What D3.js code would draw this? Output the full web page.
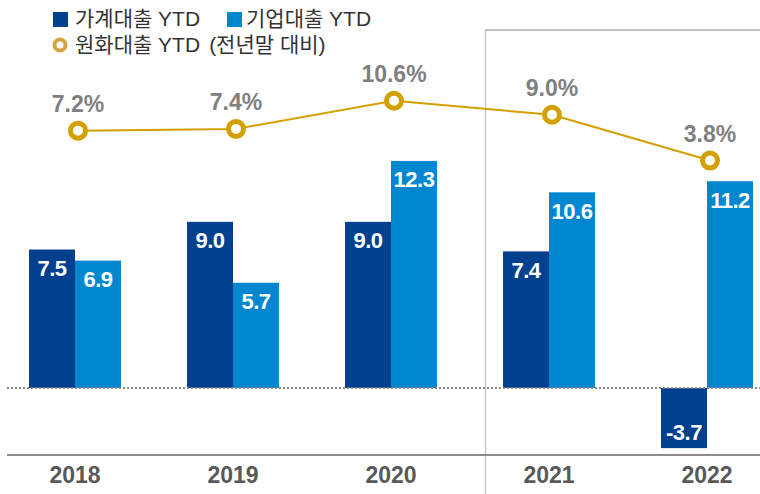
<!DOCTYPE html>
<html>
<head>
<meta charset="utf-8">
<script src="https://cdn.jsdelivr.net/npm/d3@7"></script>
<style>
  body { margin: 0; background: #fff; }
  svg { display: block; font-family: "Liberation Sans", Arial, "Noto Sans CJK KR", sans-serif; }
</style>
</head>
<body>
<div id="chart"></div>
<script>
// chart data
const years = ["2018", "2019", "2020", "2021", "2022"];
const household = [7.5, 9.0, 9.0, 7.4, -3.7];   // 가계대출 YTD
const corporate = [6.9, 5.7, 12.3, 10.6, 11.2]; // 기업대출 YTD
const krwLoans = [7.2, 7.4, 10.6, 9.0, 3.8];    // 원화대출 YTD (전년말 대비)
const seriesNames = ["가계대출 YTD", "기업대출 YTD", "원화대출 YTD", "(전년말 대비)"];

const width = 760, height = 494;
const colors = {dark: "#00408F", light: "#0087CF", gold: "#D3A000"};

let svg = d3.select("#chart")
    .append("svg")
    .attr("width", width)
    .attr("height", height);

// x scales - outer band per year, inner band per series
let x = d3.scaleBand()
    .domain(years)
    .range([-4, 786])
    .paddingInner(0.418)
    .paddingOuter(0.209);

let xInner = d3.scaleBand()
    .domain(["household", "corporate"])
    .range([0, x.bandwidth()]);

// bar scale (negative side drawn a bit tighter like the original)
let y = d3.scaleLinear()
    .domain([-4, 0, 13])
    .range([453, 388, 148]);

// line scale
let y2 = d3.scaleLinear()
    .domain([0, 12])
    .range([194, 88.4]);

// frame for the recent years
svg.append("line")
    .attr("x1", 485.5).attr("x2", 485.5)
    .attr("y1", 30).attr("y2", height)
    .attr("stroke", "#c8c8c8")
    .attr("stroke-width", 1.5);
svg.append("line")
    .attr("x1", 485).attr("x2", width)
    .attr("y1", 30).attr("y2", 30)
    .attr("stroke", "#c2c2c2")
    .attr("stroke-width", 2);

// bars
let barData = [];
years.forEach((yr, i) => {
    barData.push({year: yr, key: "household", value: household[i]});
    barData.push({year: yr, key: "corporate", value: corporate[i]});
});

svg.append("g")
    .selectAll("rect")
    .data(barData)
    .enter()
    .append("rect")
    .attr("x", d => x(d.year) + xInner(d.key))
    .attr("y", d => Math.min(y(d.value), y(0)))
    .attr("width", xInner.bandwidth())
    .attr("height", d => Math.abs(y(d.value) - y(0)))
    .attr("fill", d => d.key == "household" ? colors.dark : colors.light);

svg.append("g")
    .selectAll("text")
    .data(barData)
    .enter()
    .append("text")
    .attr("x", d => x(d.year) + xInner(d.key) + xInner.bandwidth() / 2)
    .attr("y", d => d.value >= 0 ? y(d.value) + 26.5 : y(d.value) - 8)
    .attr("text-anchor", "middle")
    .style("font-size", "22px")
    .style("font-weight", "bold")
    .style("letter-spacing", "-0.5px")
    .attr("fill", "#fff")
    .text(d => d.value.toFixed(1));

// zero line (dotted)
svg.append("line")
    .attr("x1", 7).attr("x2", width)
    .attr("y1", y(0)).attr("y2", y(0))
    .attr("stroke", "#8a8a8a")
    .attr("stroke-width", 2)
    .attr("stroke-dasharray", "2,2");

// bottom axis
let xAxis = svg.append("g")
    .attr("transform", "translate(0, 455)")
    .call(d3.axisBottom(x).tickSize(0).tickPadding(12));
xAxis.select(".domain").remove();
xAxis.selectAll("text")
    .attr("fill", "#595959")
    .style("font-size", "23px")
    .style("font-weight", "bold")
    .style("font-family", "'Liberation Sans', Arial, sans-serif");
svg.append("line")
    .attr("x1", 7).attr("x2", width)
    .attr("y1", 455).attr("y2", 455)
    .attr("stroke", "#8c8c8c")
    .attr("stroke-width", 2);

// line series
let cx = d => x(d.year) + x.bandwidth() / 2 + 3;
let lineData = years.map((yr, i) => ({year: yr, value: krwLoans[i]}));

svg.append("path")
    .datum(lineData)
    .attr("fill", "none")
    .attr("stroke", colors.gold)
    .attr("stroke-width", 2)
    .attr("d", d3.line().x(cx).y(d => y2(d.value)));

svg.append("g")
    .selectAll("circle")
    .data(lineData)
    .enter()
    .append("circle")
    .attr("cx", cx)
    .attr("cy", d => y2(d.value))
    .attr("r", 7.5)
    .attr("fill", "#fff")
    .attr("stroke", colors.gold)
    .attr("stroke-width", 5);

svg.append("g")
    .selectAll("text")
    .data(lineData)
    .enter()
    .append("text")
    .attr("x", cx)
    .attr("y", d => y2(d.value) - 19)
    .attr("text-anchor", "middle")
    .style("font-size", "23px")
    .style("font-weight", "bold")
    .attr("fill", "#808080")
    .text(d => d.value.toFixed(1) + "%");

// legend
let legend = svg.append("g").style("font-size", "21px").attr("fill", "#333");

legend.append("rect").attr("x", 53).attr("y", 12).attr("width", 15).attr("height", 15).attr("fill", colors.dark);
legend.append("text").attr("x", 75).attr("y", 26).text(seriesNames[0]);

legend.append("rect").attr("x", 227).attr("y", 12).attr("width", 15).attr("height", 15).attr("fill", colors.light);
legend.append("text").attr("x", 246).attr("y", 26).text(seriesNames[1]);

legend.append("circle").attr("cx", 60).attr("cy", 45).attr("r", 5.5)
    .attr("fill", "#fff").attr("stroke", "#D6A443").attr("stroke-width", 4);
let legend3 = legend.append("text").attr("x", 75).attr("y", 52);
legend3.append("tspan").text(seriesNames[2]);
legend3.append("tspan").attr("dx", 9).text(seriesNames[3]);
</script>
</body>
</html>
